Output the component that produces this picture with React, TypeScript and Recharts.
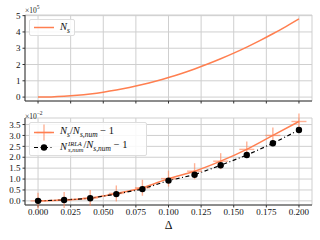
import React from 'react';
import { LineChart, Line, XAxis, YAxis, CartesianGrid } from 'recharts';

// Top panel: N_s (×10^5) vs Δ
const deltaFine = [0, 0.01, 0.02, 0.03, 0.04, 0.05, 0.06, 0.07, 0.08, 0.09, 0.1, 0.11, 0.12, 0.13, 0.14, 0.15, 0.16, 0.17, 0.18, 0.19, 0.2];
const nsValues = [0, 0.012, 0.048, 0.108, 0.192, 0.3, 0.432, 0.588, 0.768, 0.972, 1.2, 1.452, 1.728, 2.028, 2.352, 2.7, 3.072, 3.468, 3.888, 4.332, 4.8];

// Bottom panel: relative deviations (×10^-2)
const deltaPts = [0, 0.02, 0.04, 0.06, 0.08, 0.1, 0.12, 0.14, 0.16, 0.18, 0.2];
const ratioValues = [0, 0.04, 0.13, 0.34, 0.6, 1.02, 1.36, 1.82, 2.36, 3.0, 3.64];
const irlaValues = [0, 0.04, 0.12, 0.31, 0.54, 0.93, 1.2, 1.63, 2.1, 2.64, 3.25];

const xTicks = [0, 0.025, 0.05, 0.075, 0.1, 0.125, 0.15, 0.175, 0.2];
const topYTicks = [0, 1, 2, 3, 4, 5];
const botYTicks = [0, 0.5, 1, 1.5, 2, 2.5, 3, 3.5];

const topData = deltaFine.map((d, i) => ({ d, ns: nsValues[i] }));
const botData = deltaPts.map((d, i) => ({ d, ratio: ratioValues[i], irla: irlaValues[i] }));

const ORANGE = '#ff7f50';
const AXIS = '#333333';
const GRID = '#cfcfcf';
const FONT = 'Liberation Serif';
const tickStyle = { fontFamily: FONT, fontSize: 9, fill: '#111' };

const Cross = (props: any) => {
  const { cx, cy } = props;
  if (cx == null || cy == null) return null;
  return (
    <g>
      <line x1={cx - 7.5} x2={cx + 7.5} y1={cy} y2={cy} stroke={ORANGE} strokeOpacity={0.6} strokeWidth={1.4} />
      <line x1={cx} x2={cx} y1={cy - 8} y2={cy + 8} stroke={ORANGE} strokeOpacity={0.6} strokeWidth={1.4} />
    </g>
  );
};

const Dot = (props: any) => {
  const { cx, cy } = props;
  if (cx == null || cy == null) return null;
  return <circle cx={cx} cy={cy} r={3.2} fill="#000" />;
};

const boxAxes = (domainY: number[]) => [
  <XAxis key="xt" xAxisId="top" orientation="top" type="number" domain={[-0.01, 0.21]} height={0} tick={false} tickLine={false} axisLine={{ stroke: AXIS }} />,
  <YAxis key="yr" yAxisId="right" orientation="right" type="number" domain={domainY} width={0} tick={false} tickLine={false} axisLine={{ stroke: AXIS }} />,
];

const legendBox: React.CSSProperties = {
  position: 'absolute',
  background: 'rgba(255,255,255,0.85)',
  border: '1px solid #dddddd',
  borderRadius: 2,
  fontFamily: FONT,
  fontSize: 10.5,
  color: '#111',
  boxSizing: 'border-box',
};

const subStyle: React.CSSProperties = { fontSize: 7.5 };

export default function App() {
  return (
    <div style={{ position: 'absolute', left: 0, top: 0, width: 320, height: 240, background: '#fff', overflow: 'hidden' }}>
      <div style={{ position: 'absolute', left: 0, top: 0 }}>
        <LineChart width={320} height={110} data={topData} margin={{ top: 15, right: 8, bottom: 4, left: 8 }}>
          <CartesianGrid stroke={GRID} strokeWidth={1} />
          <XAxis dataKey="d" type="number" domain={[-0.01, 0.21]} ticks={xTicks} interval={0} tickFormatter={() => ''} height={5} tickSize={2.5} tickLine={{ stroke: AXIS }} axisLine={{ stroke: AXIS }} />
          <YAxis type="number" domain={[-0.24, 5.04]} ticks={topYTicks} interval={0} width={17} tickSize={2.5} tickMargin={2} tick={tickStyle} tickLine={{ stroke: AXIS }} axisLine={{ stroke: AXIS }} />
          {boxAxes([-0.24, 5.04])}
          <Line dataKey="ns" type="monotone" stroke={ORANGE} strokeWidth={1.5} dot={false} isAnimationActive={false} />
        </LineChart>
      </div>
      <div style={{ position: 'absolute', left: 0, top: 110 }}>
        <LineChart width={320} height={130} data={botData} margin={{ top: 8, right: 8, bottom: 0, left: 8 }}>
          <CartesianGrid stroke={GRID} strokeWidth={1} />
          <XAxis dataKey="d" type="number" domain={[-0.01, 0.21]} ticks={xTicks} interval={0} tickFormatter={(v: number) => v.toFixed(3)} height={35} tickSize={2.5} tickMargin={1} tick={tickStyle} tickLine={{ stroke: AXIS }} axisLine={{ stroke: AXIS }}
            label={{ value: 'Δ', position: 'insideBottom', offset: 11, style: { fontFamily: FONT, fontSize: 12, fill: '#111' } }} />
          <YAxis type="number" domain={[-0.19, 3.8]} ticks={botYTicks} interval={0} tickFormatter={(v: number) => v.toFixed(1)} width={17} tickSize={2.5} tickMargin={2} tick={tickStyle} tickLine={{ stroke: AXIS }} axisLine={{ stroke: AXIS }} />
          {boxAxes([-0.19, 3.8])}
          <Line dataKey="ratio" type="monotone" stroke={ORANGE} strokeWidth={1.5} dot={<Cross />} isAnimationActive={false} />
          <Line dataKey="irla" type="linear" stroke="#000" strokeWidth={1.2} strokeDasharray="4 2.5 1 2.5" dot={<Dot />} isAnimationActive={false} />
        </LineChart>
      </div>

      {/* offset labels */}
      <div style={{ position: 'absolute', left: 25, top: 3, fontFamily: FONT, fontSize: 7.5, color: '#222', lineHeight: '8px' }}>
        ×10<sup style={{ fontSize: 5.5 }}>5</sup>
      </div>
      <div style={{ position: 'absolute', left: 25, top: 109, fontFamily: FONT, fontSize: 7.5, color: '#222', lineHeight: '8px' }}>
        ×10<sup style={{ fontSize: 5.5 }}>−2</sup>
      </div>

      {/* top legend */}
      <div style={{ ...legendBox, left: 29, top: 19, width: 46, height: 17 }}>
        <svg width={24} height={15} style={{ position: 'absolute', left: 3, top: 0 }}>
          <line x1={1} x2={21} y1={7.5} y2={7.5} stroke={ORANGE} strokeWidth={1.5} />
        </svg>
        <div style={{ position: 'absolute', left: 30, top: 1, whiteSpace: 'nowrap' }}>
          <i>N</i><sub style={subStyle}><i>s</i></sub>
        </div>
      </div>

      {/* bottom legend */}
      <div style={{ ...legendBox, left: 29, top: 122, width: 118, height: 34 }}>
        <svg width={26} height={32} style={{ position: 'absolute', left: 3, top: 0 }}>
          <line x1={1} x2={21} y1={9.5} y2={9.5} stroke={ORANGE} strokeWidth={1.5} />
          <line x1={3.5} x2={18.5} y1={9.5} y2={9.5} stroke={ORANGE} strokeOpacity={0.6} strokeWidth={1.4} />
          <line x1={11} x2={11} y1={1.5} y2={17.5} stroke={ORANGE} strokeOpacity={0.6} strokeWidth={1.4} />
          <line x1={1} x2={21} y1={24.5} y2={24.5} stroke="#000" strokeWidth={1.2} strokeDasharray="4 2.5 1 2.5" />
          <circle cx={11} cy={24.5} r={3.2} fill="#000" />
        </svg>
        <div style={{ position: 'absolute', left: 30, top: 2, whiteSpace: 'nowrap', lineHeight: '12px' }}>
          <i>N</i><sub style={subStyle}><i>s</i></sub>/<i>N</i><sub style={subStyle}><i>s,num</i></sub> − 1
        </div>
        <div style={{ position: 'absolute', left: 30, top: 16, whiteSpace: 'nowrap', lineHeight: '12px', display: 'flex', alignItems: 'center' }}>
          <i>N</i>
          <span style={{ display: 'inline-flex', flexDirection: 'column', fontSize: 6.5, lineHeight: '6.5px', marginLeft: 1 }}>
            <i>IRLA</i>
            <i>s,num</i>
          </span>
          <span>/<i>N</i><sub style={subStyle}><i>s,num</i></sub> − 1</span>
        </div>
      </div>
    </div>
  );
}
